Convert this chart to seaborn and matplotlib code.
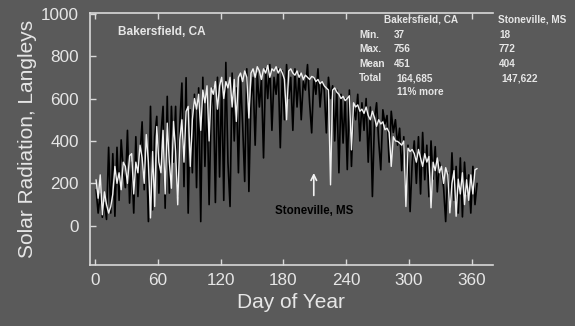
import numpy as np
import pandas as pd
import matplotlib
matplotlib.use("Agg")
import matplotlib.pyplot as plt
import seaborn as sns

# Day of year sampled every 2 days
days = list(range(1, 366, 2))

stoneville = [
    170, 60, 150, 40, 110, 30, 370, 60,
    340, 45, 370, 120, 405, 260, 180, 450,
    107, 300, 60, 420, 138, 330, 490, 170,
    380, 20, 563, 75, 420, 516, 154, 430,
    563, 83, 610, 154, 563, 300, 563, 138,
    480, 673, 185, 698, 60, 547, 250, 620,
    180, 650, 20, 700, 280, 620, 100, 560,
    650, 110, 700, 230, 680, 120, 770, 300,
    91, 720, 400, 650, 250, 700, 480, 209,
    740, 162, 600, 700, 380, 720, 560, 690,
    320, 740, 600, 760, 450, 700, 620, 740,
    368, 730, 500, 760, 600, 700, 450, 740,
    560, 720, 500, 680, 640, 760, 580, 438,
    700, 620, 740, 560, 680, 640, 438, 700,
    600, 660, 400, 640, 250, 620, 390, 600,
    265, 640, 280, 560, 500, 620, 400, 580,
    450, 600, 300, 560, 138, 500, 580, 400,
    264, 547, 480, 520, 300, 540, 440, 500,
    380, 460, 260, 420, 140, 380, 67, 300,
    400, 200, 420, 150, 440, 217, 380, 137,
    400, 220, 373, 160, 300, 250, 180, 20,
    250, 80, 344, 120, 280, 60, 320, 42,
    300, 150, 240, 60, 280, 100, 200,
]

bakersfield = [
    217, 130, 240, 52, 160, 100, 60, 90,
    150, 280, 200, 250, 170, 300, 280, 200,
    330, 340, 150, 300, 250, 380, 320, 200,
    430, 300, 37, 350, 91, 468, 300, 250,
    450, 150, 484, 300, 177, 492, 350, 99,
    405, 500, 300, 539, 563, 280, 500, 600,
    550, 620, 450, 640, 580, 660, 400, 650,
    620, 680, 550, 660, 700, 600, 680, 650,
    700, 560, 690, 492, 700, 720, 680, 730,
    700, 508, 720, 740, 700, 750, 730, 690,
    740, 720, 756, 700, 740, 730, 750, 720,
    740, 720, 690, 500, 730, 740, 720, 710,
    730, 700, 720, 690, 710, 700, 690, 704,
    700, 680, 690, 670, 680, 660, 650, 640,
    193, 640, 650, 630, 620, 600, 610, 590,
    600, 613, 358, 580, 560, 570, 540, 550,
    530, 560, 520, 500, 540, 510, 469, 500,
    480, 490, 453, 460, 440, 280, 420, 400,
    398, 390, 380, 400, 91, 366, 350, 360,
    340, 300, 360, 320, 280, 340, 300, 327,
    85, 300, 260, 320, 250, 280, 200, 274,
    240, 61, 200, 260, 45, 220, 150, 250,
    100, 217, 120, 240, 150, 264, 270,
]

x_ticks = [0, 60, 120, 180, 240, 300, 360]
y_ticks = [0, 200, 400, 600, 800, 1000]

stat_rows = ["Min.", "Max.", "Mean", "Total"]
bak_stats = ["37", "756", "451", "164,685"]
sto_stats = ["18", "772", "404", "147,622"]

BG = "#5a5a5a"
FG = "#e6e6e6"

sns.set_style("white")
plt.rcParams["font.family"] = ["Liberation Sans", "DejaVu Sans"]

df = pd.DataFrame({
    "day": days * 2,
    "rad": bakersfield + stoneville,
    "site": ["Bakersfield, CA"] * len(days) + ["Stoneville, MS"] * len(days),
})

fig = plt.figure(figsize=(5.75, 3.26), dpi=100, facecolor=BG)
ax = fig.add_axes([0.1565, 0.187, 0.7005, 0.773])
ax.set_facecolor(BG)

sns.lineplot(data=df[df.site == "Stoneville, MS"], x="day", y="rad",
             color="#000000", lw=1.2, ax=ax, legend=False)
sns.lineplot(data=df[df.site == "Bakersfield, CA"], x="day", y="rad",
             color="#f0f0f0", lw=1.0, ax=ax, legend=False)

ax.set_xlim(-4.8, 380)
ax.set_ylim(-185, 1003)
ax.set_xticks(x_ticks)
ax.set_yticks(y_ticks)

for s in ["left", "bottom", "top"]:
    ax.spines[s].set_color("#d9d9d9")
    ax.spines[s].set_linewidth(1.2)
    ax.spines[s].set_visible(True)
ax.spines["right"].set_visible(False)

ax.tick_params(axis="x", direction="in", top=True, bottom=True, length=4,
               width=1, color="#d9d9d9", labelcolor=FG, labelsize=12.3, pad=6)
ax.tick_params(axis="y", direction="in", left=True, right=False, length=4,
               width=1, color="#d9d9d9", labelcolor=FG, labelsize=12.3, pad=8)

ax.set_xlabel("Day of Year", fontsize=15, color=FG, labelpad=3)
ax.set_ylabel("Solar Radiation, Langleys", fontsize=15, color=FG, labelpad=3)

fs = 7.2
ax.text(22, 915, "Bakersfield, CA", fontsize=8.5, fontweight="bold", color=FG,
        va="center", ha="left")

# stats table
def fig_xy(px, py):
    return px / 575.0, 1 - py / 326.0

fig.text(*fig_xy(421, 20), "Bakersfield, CA", fontsize=fs, fontweight="bold",
         color=FG, ha="center", va="center")
fig.text(*fig_xy(532, 20), "Stoneville, MS", fontsize=fs, fontweight="bold",
         color=FG, ha="center", va="center")
for i, (r, b, s) in enumerate(zip(stat_rows, bak_stats, sto_stats)):
    py = 35 + i * 14.4
    fig.text(*fig_xy(359, py), r, fontsize=fs, fontweight="bold", color=FG,
             ha="left", va="center")
    fig.text(*fig_xy(394 + (2 if i == 3 else 0), py), b, fontsize=fs,
             fontweight="bold", color=FG, ha="left", va="center")
    fig.text(*fig_xy(499 + (2 if i == 3 else 0), py), s, fontsize=fs,
             fontweight="bold", color=FG, ha="left", va="center")
fig.text(*fig_xy(397, 92), "11% more", fontsize=fs, fontweight="bold",
         color=FG, ha="left", va="center")

# Stoneville annotation with arrow
ax.annotate("", xy=(209, 262), xytext=(209, 130),
            arrowprops=dict(arrowstyle="->", color="#f2f2f2", lw=1.2))
ax.text(209, 72, "Stoneville, MS", fontsize=8.3, fontweight="bold",
        color="#000000", ha="center", va="center")

fig.savefig("out.png", dpi=100, facecolor=BG)
